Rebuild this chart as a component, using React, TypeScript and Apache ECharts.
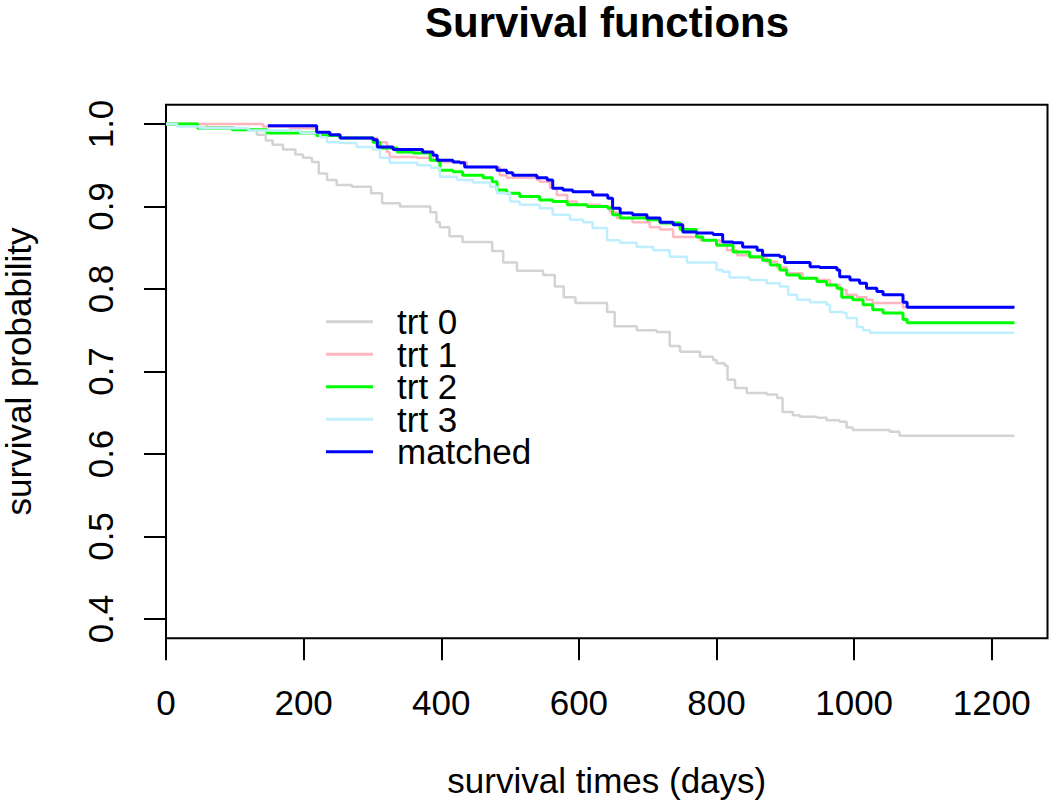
import React, { useEffect, useRef } from "react";
import * as echarts from "echarts";

const FONT = "'Liberation Sans', Arial, Helvetica, sans-serif";

const xTicks = [0, 200, 400, 600, 800, 1000, 1200];
const yTicks = [0.4, 0.5, 0.6, 0.7, 0.8, 0.9, 1.0];
const seriesNames = ["trt 0", "trt 1", "trt 2", "trt 3", "matched"];
const seriesColors = ["#D3D3D3", "#FFB6C1", "#00FF00", "#BFEFFF", "#0000FF"];
const seriesWidths = [2.5, 2.5, 3, 2.5, 3];

const trt0Time = [0, 60, 100, 132, 145, 155, 170, 188, 199, 212, 222, 234, 248, 270, 298, 314, 340, 384, 393, 398, 412, 431, 474, 490, 510, 548, 565, 578, 595, 641, 652, 684, 713, 732, 747, 776, 795, 800, 812, 816, 827, 844, 873, 888, 896, 911, 921, 946, 960, 979, 989, 998, 1052, 1066, 1233];
const trt0Surv = [1, 0.996, 0.993, 0.987, 0.98, 0.975, 0.969, 0.963, 0.959, 0.954, 0.94, 0.932, 0.926, 0.924, 0.916, 0.904, 0.9, 0.893, 0.881, 0.875, 0.864, 0.857, 0.846, 0.832, 0.822, 0.817, 0.803, 0.79, 0.783, 0.772, 0.755, 0.75, 0.748, 0.731, 0.724, 0.718, 0.714, 0.71, 0.707, 0.69, 0.68, 0.674, 0.672, 0.668, 0.651, 0.647, 0.645, 0.644, 0.641, 0.639, 0.632, 0.629, 0.627, 0.622, 0.622];

const trt1Time = [0, 141, 180, 219, 238, 253, 307, 321, 325, 365, 388, 395, 437, 485, 495, 539, 543, 558, 568, 583, 597, 631, 645, 655, 678, 703, 718, 737, 776, 805, 815, 830, 848, 873, 888, 902, 925, 946, 965, 979, 989, 1004, 1018, 1027, 1071, 1233];
const trt1Surv = [1, 0.997, 0.995, 0.99, 0.986, 0.983, 0.978, 0.966, 0.96, 0.959, 0.956, 0.954, 0.948, 0.938, 0.935, 0.932, 0.93, 0.922, 0.914, 0.906, 0.902, 0.9, 0.893, 0.886, 0.881, 0.875, 0.872, 0.863, 0.859, 0.853, 0.847, 0.841, 0.838, 0.833, 0.826, 0.819, 0.813, 0.811, 0.805, 0.799, 0.793, 0.79, 0.787, 0.783, 0.778, 0.778];

const trt2Time = [0, 46, 96, 147, 219, 253, 301, 311, 336, 359, 384, 398, 417, 431, 461, 474, 481, 495, 514, 543, 562, 583, 612, 642, 649, 660, 699, 718, 747, 771, 780, 800, 824, 848, 867, 878, 892, 902, 921, 946, 960, 975, 982, 998, 1013, 1027, 1042, 1071, 1077, 1233];
const trt2Surv = [1, 0.995, 0.993, 0.989, 0.986, 0.983, 0.978, 0.971, 0.966, 0.965, 0.956, 0.944, 0.942, 0.938, 0.935, 0.93, 0.92, 0.916, 0.912, 0.908, 0.906, 0.902, 0.9, 0.898, 0.89, 0.886, 0.884, 0.88, 0.872, 0.863, 0.859, 0.853, 0.845, 0.839, 0.835, 0.829, 0.823, 0.817, 0.813, 0.809, 0.805, 0.801, 0.79, 0.787, 0.781, 0.775, 0.771, 0.763, 0.759, 0.759];

const trt3Time = [0, 16, 49, 120, 195, 224, 234, 253, 277, 301, 311, 325, 365, 385, 398, 423, 446, 471, 481, 500, 514, 543, 562, 587, 606, 620, 641, 660, 684, 708, 732, 757, 800, 809, 819, 848, 873, 892, 904, 917, 936, 960, 965, 984, 989, 1004, 1013, 1023, 1233];
const trt3Surv = [1, 0.997, 0.995, 0.992, 0.989, 0.984, 0.978, 0.977, 0.972, 0.969, 0.959, 0.953, 0.95, 0.947, 0.936, 0.932, 0.929, 0.924, 0.916, 0.906, 0.902, 0.898, 0.89, 0.884, 0.881, 0.874, 0.859, 0.856, 0.851, 0.847, 0.839, 0.832, 0.823, 0.821, 0.814, 0.811, 0.807, 0.803, 0.793, 0.787, 0.784, 0.781, 0.772, 0.771, 0.765, 0.754, 0.75, 0.747, 0.747];

const matchedTime = [148, 219, 238, 253, 301, 307, 330, 373, 388, 394, 417, 427, 434, 481, 495, 504, 539, 554, 562, 577, 591, 620, 642, 649, 660, 678, 699, 718, 737, 751, 771, 795, 809, 824, 838, 859, 867, 892, 899, 936, 950, 975, 979, 994, 1008, 1018, 1033, 1042, 1071, 1077, 1233];
const matchedSurv = [0.998, 0.99, 0.987, 0.983, 0.981, 0.972, 0.969, 0.966, 0.962, 0.956, 0.954, 0.953, 0.948, 0.944, 0.941, 0.938, 0.935, 0.932, 0.922, 0.92, 0.918, 0.914, 0.91, 0.898, 0.892, 0.89, 0.886, 0.881, 0.878, 0.869, 0.868, 0.866, 0.857, 0.856, 0.851, 0.847, 0.841, 0.839, 0.832, 0.827, 0.826, 0.823, 0.815, 0.811, 0.807, 0.801, 0.797, 0.793, 0.784, 0.778, 0.778];

const allTimes = [trt0Time, trt1Time, trt2Time, trt3Time, matchedTime];
const allSurv = [trt0Surv, trt1Surv, trt2Surv, trt3Surv, matchedSurv];

export default function App() {
  const ref = useRef<HTMLDivElement>(null);
  useEffect(() => {
    if (!ref.current) return;
    const chart = echarts.init(ref.current, undefined, { renderer: "svg" });
    const series = seriesNames.map((name, i) => ({
      name,
      type: "line",
      step: "end",
      symbol: "none",
      showSymbol: false,
      data: allTimes[i].map((t, j) => [t, allSurv[i][j]]),
      lineStyle: { color: seriesColors[i], width: seriesWidths[i] },
      itemStyle: { color: seriesColors[i] },
      z: 2 + i,
    }));
    chart.setOption({
      animation: false,
      backgroundColor: "#fff",
      textStyle: { fontFamily: FONT },
      grid: {
        left: 166,
        right: 2.5,
        top: 104.7,
        bottom: 173.7,
        show: true,
        borderColor: "#000",
        borderWidth: 2,
        backgroundColor: "transparent",
        outerBoundsMode: "none",
      },
      graphic: [
        {
          type: "text",
          x: 607,
          y: 22,
          style: {
            text: "Survival functions",
            font: `bold 42px ${FONT}`,
            fill: "#000",
            textAlign: "center",
            textVerticalAlign: "middle",
          },
        },
      ],
      legend: {
        orient: "vertical",
        left: 326,
        top: 304.2,
        padding: 0,
        icon: "rect",
        itemWidth: 47,
        itemHeight: 3,
        itemGap: -2.5,
        selectedMode: false,
        data: seriesNames.map((n, i) => ({ name: n, itemStyle: { color: seriesColors[i] } })),
        textStyle: {
          fontSize: 35,
          color: "#000",
          fontFamily: FONT,
          padding: [0, 0, 0, 19],
        },
      },
      xAxis: {
        type: "value",
        min: 0,
        max: 1281,
        name: "survival times (days)",
        nameLocation: "middle",
        nameGap: 125,
        nameTextStyle: { fontSize: 35, color: "#000", fontFamily: FONT },
        axisLine: { show: false },
        splitLine: { show: false },
        axisTick: {
          show: true,
          inside: false,
          length: 22,
          lineStyle: { color: "#000", width: 2 },
          customValues: xTicks,
        },
        axisLabel: {
          customValues: xTicks,
          fontSize: 35,
          color: "#000",
          margin: 47,
          fontFamily: FONT,
          formatter: (v: number) => String(Math.round(v)),
        },
      },
      yAxis: {
        type: "value",
        min: 0.3766,
        max: 1.0234,
        name: "survival probability",
        nameLocation: "middle",
        nameGap: 130,
        nameRotate: 90,
        nameTextStyle: { fontSize: 35, color: "#000", fontFamily: FONT },
        axisLine: { show: false },
        splitLine: { show: false },
        axisTick: {
          show: true,
          inside: false,
          length: 22,
          lineStyle: { color: "#000", width: 2 },
          customValues: yTicks,
        },
        axisLabel: {
          customValues: yTicks,
          rotate: 90,
          fontSize: 35,
          color: "#000",
          margin: 48,
          fontFamily: FONT,
          formatter: (v: number) => v.toFixed(1),
        },
      },
      series,
    });
    return () => chart.dispose();
  }, []);
  return <div ref={ref} style={{ width: 1050, height: 812, position: "absolute", left: 0, top: 0 }} />;
}
